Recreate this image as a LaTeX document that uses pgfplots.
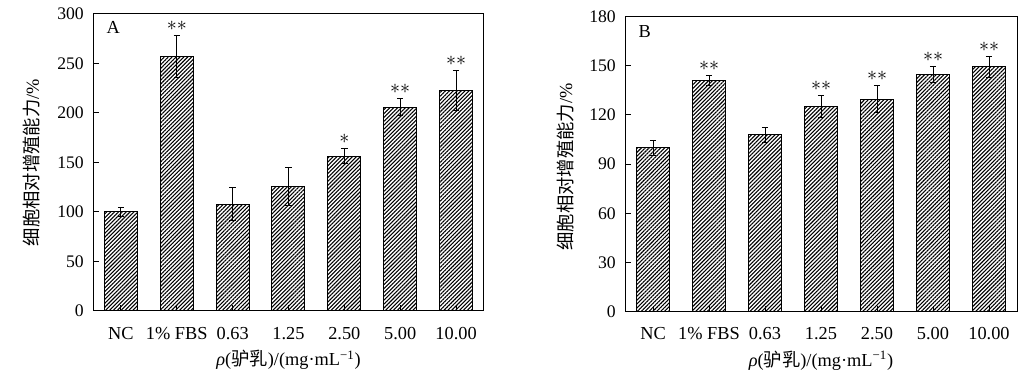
\documentclass[border=0pt]{standalone}
\usepackage{fontspec}
\setmainfont{Liberation Serif}
\newfontfamily\cjk{Noto Sans CJK SC}
\usepackage{pgfplots}
\pgfplotsset{compat=1.18}
\usetikzlibrary{patterns.meta}
\pgfplotsset{
  panel/.style={
    scale only axis,
    xmin=-0.5, xmax=6.5, ymin=0,
    xtick={0,...,6},
    xticklabels={NC,1\% FBS,0.63,1.25,2.50,5.00,10.00},
    tick align=inside,
    major tick length=3.6pt,
    tick style={black, line width=0.6pt},
    axis line style={line width=0.6pt},
    ytick pos=left, xtick pos=bottom,
    axis on top,
    clip=false,
    yticklabel style={font=\fontsize{10.6}{12}\selectfont, xshift=-2pt},
    xticklabel style={font=\fontsize{11}{13}\selectfont, yshift=-6pt},
    label style={font=\fontsize{11}{13}\selectfont},
    /pgf/number format/assume math mode=true,
    ylabel={{\cjk 细胞相对增殖能力}/\%},
    xlabel={{\itshape ρ}({\cjk 驴乳})/(mg·mL\textsuperscript{−1})},
    xlabel style={at={(axis description cs:0.5,-0.165)}, anchor=center},
  },
  hbar/.style={
    ybar, bar width=19.8pt, draw=black, line width=0.6pt,
    pattern={Lines[angle=45,distance=1.65pt,line width=0.65pt]},
    error bars/.cd, y dir=both, y explicit,
    error bar style={line width=0.6pt, black},
    error mark options={rotate=90, mark size=1.9pt, line width=0.6pt, black},
  },
  stars/.style={
    draw=none, mark=none, nodes near coords,
    point meta=explicit symbolic,
    nodes near coords style={font=\fontsize{12.5}{14}\selectfont, anchor=base, inner sep=0pt, yshift=3pt},
  },
}
\begin{document}
\begin{tikzpicture}
\useasboundingbox (0,0) rectangle (619.8pt,226.2pt);
\begin{axis}[panel, at={(55.8pt,39.6pt)}, anchor=south west,
  width=234.6pt, height=178.2pt, ymax=300, ytick={0,50,...,300},
  ylabel style={at={(axis description cs:-0.156,0.5)}, anchor=center}]
\addplot[hbar] coordinates {
  (0,100) +- (0,5)
  (1,257) +- (0,21)
  (2,108) +- (0,17)
  (3,126) +- (0,19)
  (4,156.5) +- (0,8)
  (5,206) +- (0,8.5)
  (6,223) +- (0,20)
};
\addplot[stars] coordinates {
  (1,278)[$\ast\ast$] (4,164.5)[$\ast$] (5,214.5)[$\ast\ast$] (6,243)[$\ast\ast$]
};
\node[anchor=west, font=\fontsize{11}{13}\selectfont] at (rel axis cs:0.02,0.955) {A};
\end{axis}
\begin{axis}[panel, at={(375pt,39.2pt)}, anchor=south west,
  width=235.2pt, height=177pt, ymax=180, ytick={0,30,...,180},
  ylabel style={at={(axis description cs:-0.153,0.49)}, anchor=center}]
\addplot[hbar] coordinates {
  (0,100) +- (0,4.6)
  (1,141.2) +- (0,3)
  (2,107.8) +- (0,4.5)
  (3,124.9) +- (0,6.7)
  (4,129.6) +- (0,8.3)
  (5,144.6) +- (0,4.9)
  (6,149.3) +- (0,6.6)
};
\addplot[stars] coordinates {
  (1,144.2)[$\ast\ast$] (3,131.6)[$\ast\ast$] (4,137.9)[$\ast\ast$] (5,149.5)[$\ast\ast$] (6,155.9)[$\ast\ast$]
};
\node[anchor=west, font=\fontsize{11}{13}\selectfont] at (rel axis cs:0.02,0.948) {B};
\end{axis}
\end{tikzpicture}
\end{document}
